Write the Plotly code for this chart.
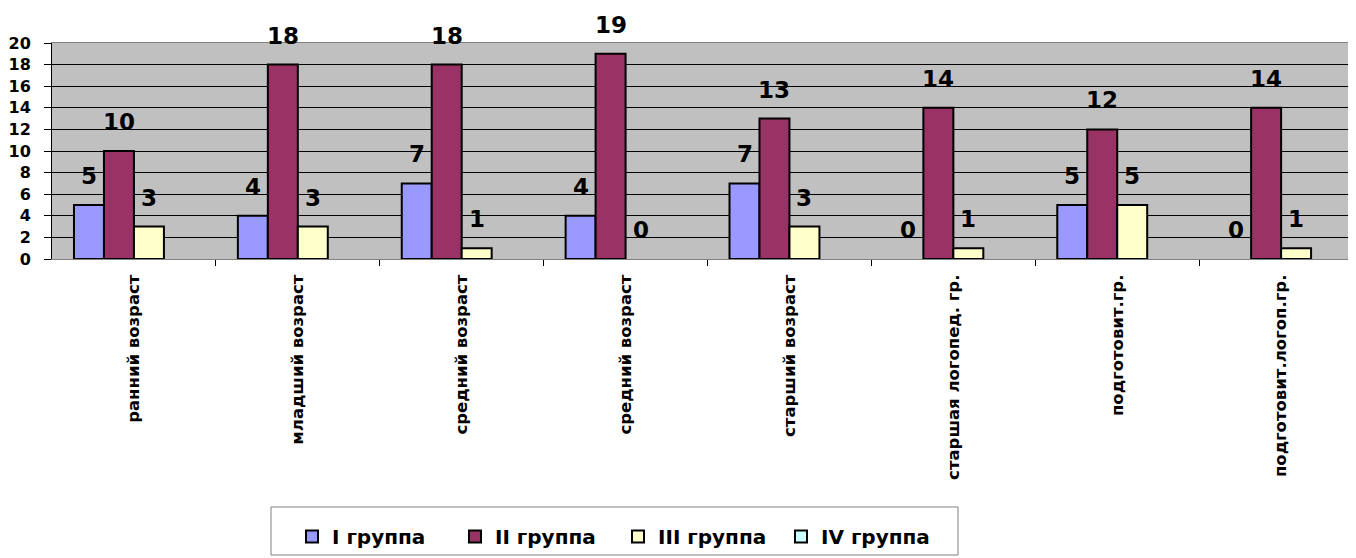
import plotly.graph_objects as go

categories = ["ранний возраст", "младший возраст", "средний возраст", "средний возраст",
              "старший возраст", "старшая логопед. гр.", "подготовит.гр.", "подготовит.логоп.гр."]
group_names = ["I группа", "II группа", "III группа", "IV группа"]
group1 = [5, 4, 7, 4, 7, 0, 5, 0]
group2 = [10, 18, 18, 19, 13, 14, 12, 14]
group3 = [3, 3, 1, 0, 3, 1, 5, 1]
group4 = [None, None, None, None, None, None, None, None]
y_ticks = [0, 2, 4, 6, 8, 10, 12, 14, 16, 18, 20]

colors = ["#9999FF", "#993366", "#FFFFCC", "#CCFFFF"]
FONT = "DejaVu Sans"
series = [group1, group2, group3, group4]
xpos = list(range(len(categories)))

BARGAP = 44 / 164
n = len(series)
bw = (1 - BARGAP) / n

fig = go.Figure()
for k, (name, vals) in enumerate(zip(group_names, series)):
    fig.add_trace(go.Bar(
        x=xpos, y=vals, name=name,
        marker=dict(color=colors[k],
                    line=dict(color="black", width=[0 if v == 0 else 2 for v in vals])),
    ))

annotations = []
for k, vals in enumerate(series[:3]):
    off = (k - (n - 1) / 2) * bw
    for i, v in enumerate(vals):
        annotations.append(dict(
            x=xpos[i] + off, y=v, xref="x", yref="y", text=str(v),
            showarrow=False, yshift=29, yanchor="middle", xanchor="center",
            font=dict(family=FONT, size=23, color="black", weight="bold"),
        ))

# the page body adds an 8px offset; figure is sized so the plot lands where the reference has it
OFF = 8
W, H = 1356 - OFF, 558 - OFF
PL, PT, PB = 52 - OFF, 43 - OFF, 259 - OFF  # plot area (figure px)
PW, PH = W - PL, PB - PT

def px_x(p):
    return (p - OFF - PL) / PW
def px_y(p):
    return (PB - (p - OFF)) / PH

shapes = [dict(type="rect", xref="paper", yref="paper",
               x0=px_x(271), x1=px_x(958), y0=px_y(555), y1=px_y(507),
               line=dict(color="#808080", width=1), fillcolor="white", layer="below")]

fig.update_layout(
    width=W, height=H,
    margin=dict(l=PL, r=0, t=PT, b=H - PB, pad=0, autoexpand=False),
    paper_bgcolor="white", plot_bgcolor="#C0C0C0",
    barmode="group", bargap=BARGAP, bargroupgap=0,
    annotations=annotations,
    shapes=shapes,
    showlegend=True,
    legend=dict(
        orientation="h", xref="container", yref="container",
        x=(292 - OFF) / W, xanchor="left", y=1 - (517 - OFF) / H, yanchor="top",
        bgcolor="rgba(0,0,0,0)", borderwidth=0,
        font=dict(family=FONT, size=20, color="black", weight="bold"),
        entrywidth=118, itemwidth=30, traceorder="normal",
    ),
    xaxis=dict(
        range=[-0.5, 7.457], tickvals=xpos, ticktext=categories,
        tickangle=-90, ticks="", ticklabelstandoff=8, automargin=False,
        tickfont=dict(family=FONT, size=16.5, color="black", weight="bold"),
        showgrid=False, zeroline=False,
        showline=True, linecolor="#808080", linewidth=1, mirror=True,
        minor=dict(tickvals=[i + 0.5 for i in xpos], ticks="outside", ticklen=6,
                   tickcolor="black", tickwidth=1, showgrid=False),
    ),
    yaxis=dict(
        range=[0, 20], tickvals=y_ticks, automargin=False,
        ticks="outside", ticklen=7, tickcolor="black", tickwidth=1,
        ticklabelstandoff=10,
        tickfont=dict(family=FONT, size=16, color="black", weight="bold"),
        showgrid=True, gridcolor="black", gridwidth=1, zeroline=False,
        showline=True, linecolor="black", linewidth=1,
    ),
)

fig.write_html("out.html")
